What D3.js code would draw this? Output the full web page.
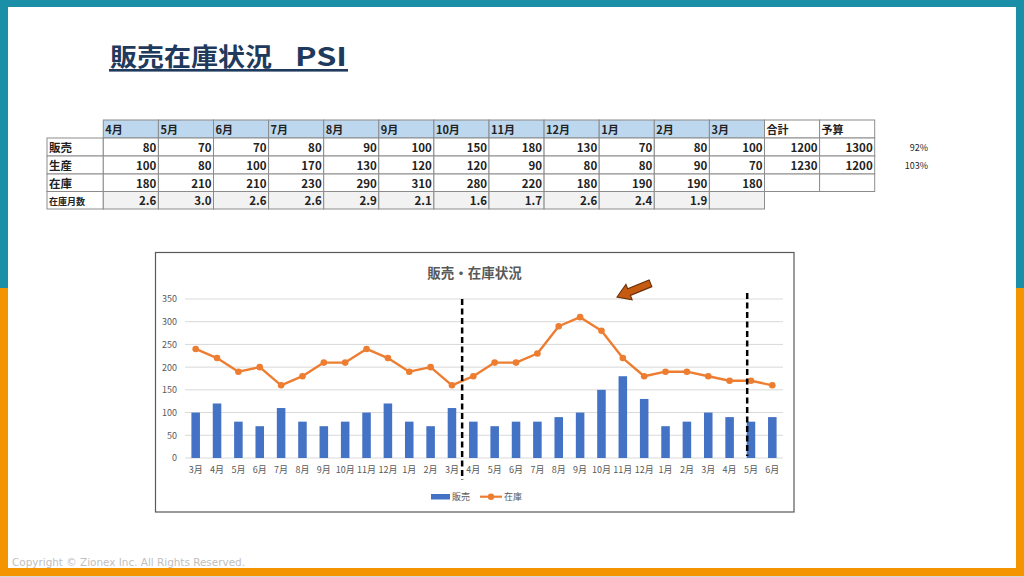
<!DOCTYPE html>
<html><head><meta charset="utf-8">
<script src="https://cdn.jsdelivr.net/npm/d3@7"></script>
<style>
html,body{margin:0;padding:0;background:#fff;}
svg{display:block;font-family:"Noto Sans CJK JP","Noto Sans",sans-serif;}
</style></head>
<body><svg id="c" width="1024" height="577"></svg>
<script>
// ---------- data ----------
const pageTitleJa = "販売在庫状況";
const pageTitleEn = "PSI";
const tableMonths = ["4月","5月","6月","7月","8月","9月","10月","11月","12月","1月","2月","3月"];
const rowLabels = ["販売","生産","在庫","在庫月数"];
const tableSales = [80,70,70,80,90,100,150,180,130,70,80,100];
const tableProduction = [100,80,100,170,130,120,120,90,80,80,90,70];
const tableInventory = [180,210,210,230,290,310,280,220,180,190,190,180];
const tableInvMonths = ["2.6","3.0","2.6","2.6","2.9","2.1","1.6","1.7","2.6","2.4","1.9",""];
const extraHeaders = ["合計","予算"];
const salesTotal = [1200,1300];
const productionTotal = [1230,1200];
const ratios = ["92%","103%"];

const chartTitle = "販売・在庫状況";
const categories = ["3月","4月","5月","6月","7月","8月","9月","10月","11月","12月","1月","2月","3月",
  "4月","5月","6月","7月","8月","9月","10月","11月","12月","1月","2月","3月","4月","5月","6月"];
const sales = [100,120,80,70,110,80,70,80,100,120,80,70,110,
  80,70,80,80,90,100,150,180,130,70,80,100,90,80,90];
const inventory = [240,220,190,200,160,180,210,210,240,220,190,200,160,
  180,210,210,230,290,310,280,220,180,190,190,180,170,170,160];
const yTicks = [0,50,100,150,200,250,300,350];
const seriesNames = ["販売","在庫"];
const copyright = "Copyright © Zionex Inc. All Rights Reserved.";

// ---------- drawing ----------
const svg = d3.select("#c");
const teal = "#1a8fa7", orange = "#f39400";

// frame
svg.append("rect").attr("x",0).attr("y",0).attr("width",1024).attr("height",7).attr("fill",teal);
svg.append("rect").attr("x",0).attr("y",0).attr("width",8).attr("height",288).attr("fill",teal);
svg.append("rect").attr("x",1016).attr("y",0).attr("width",8).attr("height",288).attr("fill",teal);
svg.append("rect").attr("x",0).attr("y",288).attr("width",8).attr("height",289).attr("fill",orange);
svg.append("rect").attr("x",1016).attr("y",288).attr("width",8).attr("height",289).attr("fill",orange);
svg.append("rect").attr("x",0).attr("y",568).attr("width",1024).attr("height",8).attr("fill",orange);
svg.append("rect").attr("x",0).attr("y",576).attr("width",1024).attr("height",1).attr("fill","#d9d9d9");

// page title
svg.append("text").attr("x",110).attr("y",66).attr("font-size",25).attr("font-weight","bold")
  .attr("fill","#1f3a5c").attr("textLength",162).attr("lengthAdjust","spacingAndGlyphs").text(pageTitleJa);
svg.append("text").attr("x",295).attr("y",66).attr("font-size",25).attr("font-weight","bold")
  .attr("fill","#1f3a5c").attr("textLength",52).attr("lengthAdjust","spacingAndGlyphs").text(pageTitleEn);
svg.append("rect").attr("x",109).attr("y",69).attr("width",239).attr("height",2.6).attr("fill","#1f3a5c");

// copyright
svg.append("text").attr("x",12).attr("y",566).attr("font-size",10.5).attr("fill","#bfbfbf")
  .attr("font-family","'Liberation Sans Narrow','DejaVu Sans Condensed',sans-serif")
  .attr("textLength",233).attr("lengthAdjust","spacingAndGlyphs").text(copyright);

// ---------- table ----------
const tx0 = 47, labelW = 56.3, colW = 55.1;
const rowY = [120,138,156,174,191.5,209];
const nCols = tableMonths.length + extraHeaders.length;
const colX = d3.scaleLinear().domain([0,nCols]).range([tx0+labelW, tx0+labelW+colW*nCols]);
const tbl = svg.append("g").attr("font-size",11.5).attr("font-weight","bold").attr("fill","#222");
const border = "#8c8c8c";
function cell(x,y,w,h,fill){
  tbl.append("rect").attr("x",x).attr("y",y).attr("width",w).attr("height",h)
    .attr("fill",fill||"#fff").attr("stroke",border).attr("stroke-width",1);
}
// header
tableMonths.forEach((m,i)=>{
  cell(colX(i),rowY[0],colW,rowY[1]-rowY[0],"#bdd7ee");
  tbl.append("text").attr("x",colX(i)+2).attr("y",rowY[1]-4).attr("font-size",11).text(m);
});
extraHeaders.forEach((m,j)=>{
  const i = tableMonths.length+j;
  cell(colX(i),rowY[0],colW,rowY[1]-rowY[0],"#fff");
  tbl.append("text").attr("x",colX(i)+2).attr("y",rowY[1]-4).attr("font-size",11).text(m);
});
// rows
const rowsData = [tableSales, tableProduction, tableInventory, tableInvMonths];
const rowExtras = [salesTotal, productionTotal, ["",""], null];
rowsData.forEach((vals,r)=>{
  const y0 = rowY[r+1], h = rowY[r+2]-rowY[r+1];
  cell(tx0,y0,labelW,h,"#fff");
  tbl.append("text").attr("x",tx0+2).attr("y",y0+h-4)
    .attr("font-size", r===3?9:11.5).text(rowLabels[r]);
  vals.forEach((v,i)=>{
    cell(colX(i),y0,colW,h,r===3?"#f2f2f2":"#fff");
    tbl.append("text").attr("x",colX(i+1)-2).attr("y",y0+h-4).attr("text-anchor","end").text(v);
  });
  if(rowExtras[r]){
    rowExtras[r].forEach((v,j)=>{
      const i = tableMonths.length+j;
      cell(colX(i),y0,colW,h,"#fff");
      tbl.append("text").attr("x",colX(i+1)-2).attr("y",y0+h-4).attr("text-anchor","end").text(v);
    });
  }
});
ratios.forEach((v,r)=>{
  svg.append("text").attr("x",928).attr("y",rowY[r+2]-5).attr("text-anchor","end")
    .attr("font-size",9).attr("fill","#222").text(v);
});

// ---------- chart ----------
svg.append("rect").attr("x",155.5).attr("y",252.5).attr("width",638.5).attr("height",259.5)
  .attr("fill","#fff").attr("stroke","#595959").attr("stroke-width",1.2);
svg.append("text").attr("x",474.5).attr("y",278).attr("text-anchor","middle")
  .attr("font-size",13.5).attr("font-weight","bold").attr("fill","#595959").text(chartTitle);

const x = d3.scaleBand().domain(d3.range(categories.length)).range([185,783]).paddingInner(0.6).paddingOuter(0.3);
const y = d3.scaleLinear().domain([0,350]).range([458,299]);
const step = x.step();

// gridlines
svg.append("g").selectAll("line").data(yTicks).join("line")
  .attr("x1",185).attr("x2",783).attr("y1",d=>y(d)).attr("y2",d=>y(d))
  .attr("stroke","#d9d9d9").attr("stroke-width",1);

// y axis
const yAxis = svg.append("g").attr("transform","translate(178,0)")
  .call(d3.axisLeft(y).tickValues(yTicks).tickSize(0).tickPadding(1));
yAxis.select(".domain").remove();
yAxis.selectAll("text").attr("font-size",9).attr("fill","#595959")
  .attr("font-family","'Noto Sans CJK JP',sans-serif");

// x axis
const xAxis = svg.append("g").attr("transform","translate(0,462)")
  .call(d3.axisBottom(x).tickFormat(i=>categories[i]).tickSize(0).tickPadding(5));
xAxis.select(".domain").remove();
xAxis.selectAll("text").attr("font-size",9).attr("fill","#595959")
  .attr("font-family","'Noto Sans CJK JP',sans-serif");

// bars
svg.append("g").selectAll("rect").data(sales).join("rect")
  .attr("x",(d,i)=>x(i)).attr("width",x.bandwidth())
  .attr("y",d=>y(d)).attr("height",d=>y(0)-y(d)).attr("fill","#4472c4");

// line
const cx = i => x(i)+x.bandwidth()/2;
svg.append("path").datum(inventory)
  .attr("d",d3.line().x((d,i)=>cx(i)).y(d=>y(d)))
  .attr("fill","none").attr("stroke","#ed7d31").attr("stroke-width",2.4).attr("stroke-linejoin","round");
svg.append("g").selectAll("circle").data(inventory).join("circle")
  .attr("cx",(d,i)=>cx(i)).attr("cy",d=>y(d)).attr("r",3.3).attr("fill","#ed7d31");

// dashed dividers
const div1 = x(13) - step*0.6/2 - 0.5;
svg.append("line").attr("x1",div1).attr("x2",div1).attr("y1",y(350)).attr("y2",480)
  .attr("stroke","#000").attr("stroke-width",2.5).attr("stroke-dasharray","6,3.5");
const div2 = x(26) + 0.5;
svg.append("line").attr("x1",div2).attr("x2",div2).attr("y1",y(350)-6).attr("y2",y(0)-2)
  .attr("stroke","#000").attr("stroke-width",2.5).attr("stroke-dasharray","6,3.5");

// arrow annotation (pointing toward peak)
const tail = [650.5, 283.3], tip = [617, 297];
const ang = Math.atan2(tip[1]-tail[1], tip[0]-tail[0]) * 180/Math.PI;
const L = Math.hypot(tip[0]-tail[0], tip[1]-tail[1]);
const sw = 3.6, hw = 8.2, hl = 13;
svg.append("polygon")
  .attr("points",[[0,-sw],[L-hl,-sw],[L-hl,-hw],[L,0],[L-hl,hw],[L-hl,sw],[0,sw]].map(p=>p.join(",")).join(" "))
  .attr("transform",`translate(${tail[0]},${tail[1]}) rotate(${ang})`)
  .attr("fill","#c55a11").attr("stroke","#6b2e05").attr("stroke-width",1.1).attr("stroke-linejoin","miter");

// legend
const lg = svg.append("g").attr("font-size",9).attr("fill","#595959");
lg.append("rect").attr("x",431).attr("y",494).attr("width",19).attr("height",5.5).attr("fill","#4472c4");
lg.append("text").attr("x",452).attr("y",500).text(seriesNames[0]);
lg.append("line").attr("x1",480).attr("x2",502).attr("y1",496.7).attr("y2",496.7)
  .attr("stroke","#ed7d31").attr("stroke-width",2.2);
lg.append("circle").attr("cx",491).attr("cy",496.7).attr("r",3.2).attr("fill","#ed7d31");
lg.append("text").attr("x",504).attr("y",500).text(seriesNames[1]);
</script></body></html>
